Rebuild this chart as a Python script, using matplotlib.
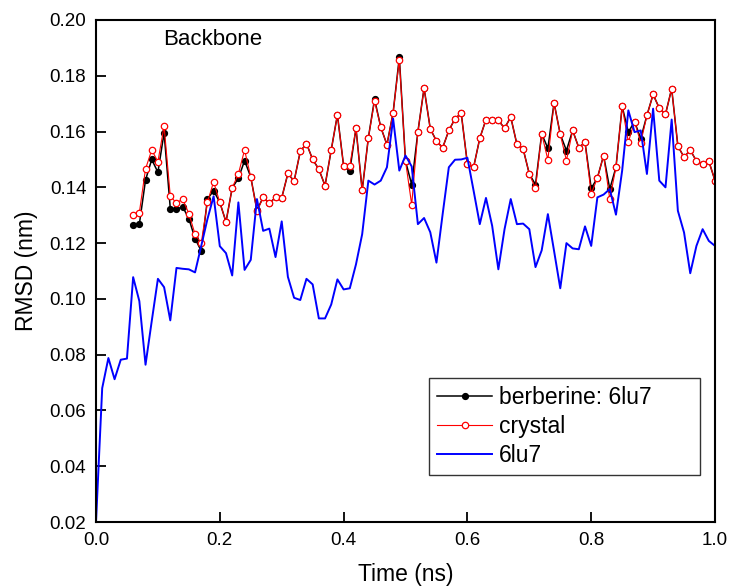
import numpy as np
import matplotlib
matplotlib.use("Agg")
import matplotlib.pyplot as plt

plt.rcParams["font.family"] = ["Liberation Sans", "DejaVu Sans"]

# --- datos ---
t_complejo = np.round(np.arange(6, 101) * 0.01, 2)
t_6lu7 = np.round(np.arange(0, 101) * 0.01, 2)

rmsd_crystal = [
    0.1302, 0.1309, 0.1466, 0.1534, 0.1492, 0.1620, 0.1368, 0.1344, 0.1358, 0.1306,
    0.1232, 0.1200, 0.1346, 0.1420, 0.1346, 0.1276, 0.1398, 0.1448, 0.1534, 0.1437,
    0.1314, 0.1364, 0.1343, 0.1364, 0.1362, 0.1450, 0.1422, 0.1529, 0.1557, 0.1500,
    0.1465, 0.1406, 0.1534, 0.1660, 0.1477, 0.1477, 0.1612, 0.1389, 0.1578, 0.1710,
    0.1616, 0.1553, 0.1668, 0.1858, 0.1494, 0.1338, 0.1599, 0.1756, 0.1610, 0.1566,
    0.1542, 0.1604, 0.1646, 0.1666, 0.1484, 0.1472, 0.1576, 0.1643, 0.1640, 0.1640,
    0.1612, 0.1652, 0.1554, 0.1538, 0.1448, 0.1396, 0.1592, 0.1499, 0.1703, 0.1590,
    0.1496, 0.1604, 0.1542, 0.1562, 0.1376, 0.1434, 0.1514, 0.1358, 0.1472, 0.1690,
    0.1562, 0.1636, 0.1560, 0.1658, 0.1733, 0.1684, 0.1662, 0.1754, 0.1548, 0.1508,
    0.1534, 0.1494, 0.1484, 0.1494, 0.1424,
]

rmsd_berberina = [
    0.1264, 0.1268, 0.1426, 0.1500, 0.1454, 0.1596, 0.1324, 0.1322, 0.1330, 0.1288,
    0.1216, 0.1172, 0.1358, 0.1388, 0.1346, 0.1276, 0.1398, 0.1432, 0.1496, 0.1437,
    0.1318, 0.1364, 0.1343, 0.1364, 0.1362, 0.1450, 0.1422, 0.1529, 0.1557, 0.1500,
    0.1465, 0.1406, 0.1534, 0.1660, 0.1477, 0.1460, 0.1612, 0.1389, 0.1578, 0.1716,
    0.1616, 0.1553, 0.1668, 0.1866, 0.1494, 0.1410, 0.1599, 0.1756, 0.1610, 0.1566,
    0.1542, 0.1604, 0.1646, 0.1666, 0.1484, 0.1472, 0.1576, 0.1643, 0.1640, 0.1640,
    0.1612, 0.1652, 0.1554, 0.1538, 0.1448, 0.1410, 0.1592, 0.1540, 0.1703, 0.1590,
    0.1532, 0.1604, 0.1542, 0.1562, 0.1396, 0.1434, 0.1514, 0.1394, 0.1472, 0.1690,
    0.1598, 0.1636, 0.1575, 0.1658, 0.1733, 0.1684, 0.1662, 0.1754, 0.1548, 0.1508,
    0.1534, 0.1494, 0.1484, 0.1494, 0.1424,
]

rmsd_6lu7 = [
    0.0200, 0.0680, 0.0788, 0.0712, 0.0782, 0.0786, 0.1078, 0.0992, 0.0764, 0.0920,
    0.1072, 0.1042, 0.0923, 0.1111, 0.1108, 0.1106, 0.1095, 0.1190, 0.1286, 0.1368,
    0.1189, 0.1164, 0.1084, 0.1346, 0.1104, 0.1140, 0.1358, 0.1244, 0.1252, 0.1150,
    0.1278, 0.1079, 0.1004, 0.0996, 0.1072, 0.1052, 0.0930, 0.0930, 0.0980, 0.1070,
    0.1034, 0.1038, 0.1124, 0.1232, 0.1424, 0.1410, 0.1424, 0.1472, 0.1646, 0.1460,
    0.1514, 0.1475, 0.1268, 0.1290, 0.1239, 0.1130, 0.1304, 0.1472, 0.1499, 0.1500,
    0.1506, 0.1388, 0.1268, 0.1362, 0.1262, 0.1106, 0.1250, 0.1358, 0.1268, 0.1270,
    0.1250, 0.1114, 0.1174, 0.1304, 0.1172, 0.1038, 0.1200, 0.1181, 0.1178, 0.1260,
    0.1190, 0.1364, 0.1374, 0.1394, 0.1302, 0.1460, 0.1676, 0.1598, 0.1604, 0.1448,
    0.1682, 0.1424, 0.1400, 0.1643, 0.1316, 0.1238, 0.1092, 0.1190, 0.1250, 0.1208,
    0.1190,
]

x_ticks = [0.0, 0.2, 0.4, 0.6, 0.8, 1.0]
y_ticks = [0.02, 0.04, 0.06, 0.08, 0.10, 0.12, 0.14, 0.16, 0.18, 0.20]

# --- grafica ---
fig = plt.figure(figsize=(7.29, 5.88), dpi=100)
ax = fig.add_axes([0.1317, 0.1122, 0.8491, 0.8538])

ax.plot(t_complejo, rmsd_berberina, color="black", lw=1.1, marker="o",
        ms=4.2, mfc="black", mec="black", label="berberine: 6lu7")
ax.plot(t_complejo, rmsd_crystal, color="red", lw=0.8, marker="o",
        ms=4.6, mfc="white", mec="red", mew=0.9, label="crystal")
ax.plot(t_6lu7, rmsd_6lu7, color="blue", lw=1.4, label="6lu7")

ax.set_xlim(0, 1.0)
ax.set_ylim(0.02, 0.20)
ax.set_xticks(x_ticks)
ax.set_yticks(y_ticks)
ax.set_xticklabels([f"{v:.1f}" for v in x_ticks])
ax.set_yticklabels([f"{v:.2f}" for v in y_ticks])
ax.tick_params(direction="in", length=7, width=1.3, labelsize=13.5, pad=7)

for s in ax.spines.values():
    s.set_linewidth(1.5)

ax.set_xlabel("Time (ns)", fontsize=16.5, labelpad=10)
ax.set_ylabel("RMSD (nm)", fontsize=16.5, labelpad=8)

ax.text(0.108, 0.193, "Backbone", fontsize=16, ha="left", va="center")

# leyenda mas ancha que su contenido, como en el original
leg = ax.legend(loc="lower left", bbox_to_anchor=(0.538, 0.0936, 0.438, 0.18),
                mode="expand", fontsize=16.5, frameon=True, fancybox=False,
                edgecolor="black", handlelength=2.4, handletextpad=0.3,
                labelspacing=0.26, borderpad=0.35, borderaxespad=0)
leg.get_frame().set_linewidth(1.0)

fig.savefig("out.png", dpi=100)
